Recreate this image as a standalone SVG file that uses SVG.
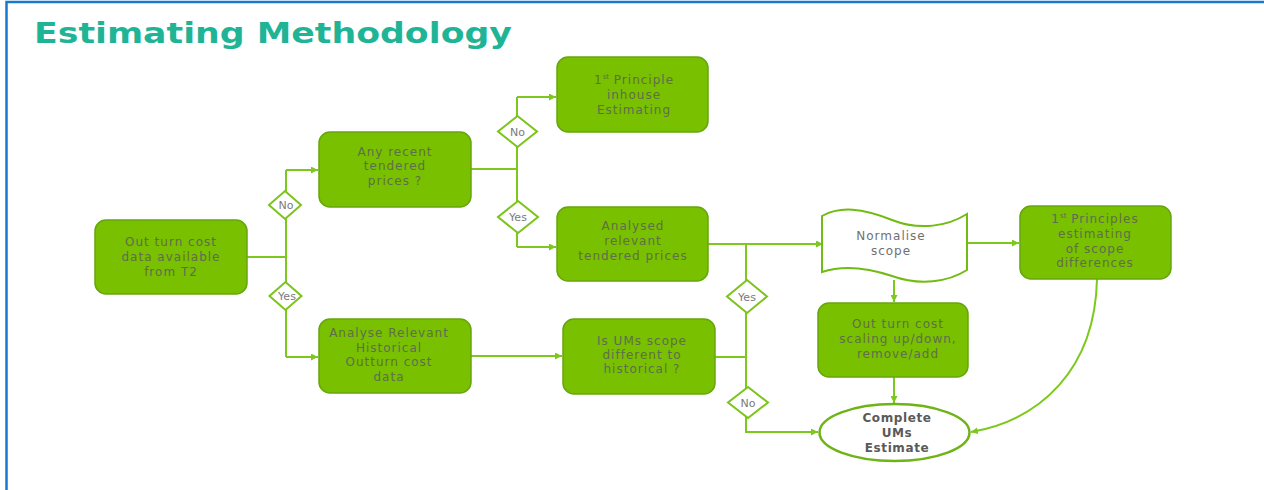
<svg xmlns="http://www.w3.org/2000/svg" width="1264" height="490" viewBox="0 0 1264 490">
<style>
.box{fill:#78c000;stroke:#66a60c;stroke-width:1.5}
.wshape{fill:#ffffff;stroke:#72bb12;stroke-width:2}
.dia{fill:#ffffff;stroke:#7cc31c;stroke-width:2}
.con{fill:none;stroke:#7cc81c;stroke-width:2}
.t{font-family:"DejaVu Sans",sans-serif;font-size:12px;letter-spacing:1px;fill:#5f6e4c;text-anchor:middle}
.tw{font-family:"DejaVu Sans",sans-serif;font-size:12px;letter-spacing:1px;fill:#707070;text-anchor:middle}
.tb{font-family:"DejaVu Sans",sans-serif;font-size:12px;font-weight:bold;letter-spacing:0.6px;fill:#5a5a5a;text-anchor:middle}
.td{font-family:"DejaVu Sans",sans-serif;font-size:11px;fill:#7a7a7a;text-anchor:middle}
.sup{font-size:7px;letter-spacing:0}
</style>
<defs>
<marker id="arr" viewBox="0 0 8 8" refX="8" refY="4" markerWidth="7" markerHeight="7" markerUnits="userSpaceOnUse" orient="auto">
<path d="M0,0 L8,4 L0,8 Z" fill="#7cc81c"/>
</marker>
</defs>
<rect x="0" y="0" width="1264" height="490" fill="#ffffff"/>
<g id="frame">
<path d="M6.5,490 V2 H1264" fill="none" stroke="#1a78d0" stroke-width="2.5"/>
</g>
<g id="title">
<text x="34" y="43" font-family="DejaVu Sans, sans-serif" font-size="28" font-weight="bold" fill="#1fb496" textLength="478" lengthAdjust="spacingAndGlyphs">Estimating Methodology</text>
</g>
<g id="connectors">
<path class="con" d="M247,257 H286"/>
<path class="con" d="M286,170 V357"/>
<path class="con" d="M286,170 H318" marker-end="url(#arr)"/>
<path class="con" d="M286,357 H318" marker-end="url(#arr)"/>
<path class="con" d="M471,169 H517"/>
<path class="con" d="M517,97 V247"/>
<path class="con" d="M517,97 H556" marker-end="url(#arr)"/>
<path class="con" d="M517,247 H556" marker-end="url(#arr)"/>
<path class="con" d="M708,244 H823" marker-end="url(#arr)"/>
<path class="con" d="M746,244 V432 H818" marker-end="url(#arr)"/>
<path class="con" d="M715,357 H746"/>
<path class="con" d="M471,356 H562" marker-end="url(#arr)"/>
<path class="con" d="M967,243 H1019" marker-end="url(#arr)"/>
<path class="con" d="M894,280 V302" marker-end="url(#arr)"/>
<path class="con" d="M894,377 V403" marker-end="url(#arr)"/>
<path class="con" d="M1097,279 C1095,370 1040,420 971,432" marker-end="url(#arr)"/>
</g>
<g id="n-outturn">
<rect class="box" x="95" y="220" width="152" height="74" rx="11"/>
<text class="t" x="171" y="246">Out turn cost</text>
<text class="t" x="171" y="261">data available</text>
<text class="t" x="171" y="276">from T2</text>
</g>
<g id="n-recent">
<rect class="box" x="319" y="132" width="152" height="75" rx="11"/>
<text class="t" x="395" y="156">Any recent</text>
<text class="t" x="395" y="170">tendered</text>
<text class="t" x="395" y="185">prices ?</text>
</g>
<g id="n-historical">
<rect class="box" x="319" y="319" width="152" height="74" rx="11"/>
<text class="t" x="389" y="337">Analyse Relevant</text>
<text class="t" x="389" y="352">Historical</text>
<text class="t" x="389" y="366">Outturn cost</text>
<text class="t" x="389" y="381">data</text>
</g>
<g id="n-firstprinciple">
<rect class="box" x="557" y="57" width="151" height="75" rx="11"/>
<text class="t" x="634" y="84">1<tspan class="sup" dy="-5">st</tspan><tspan dy="5"> Principle</tspan></text>
<text class="t" x="634" y="99">inhouse</text>
<text class="t" x="634" y="114">Estimating</text>
</g>
<g id="n-analysed">
<rect class="box" x="557" y="207" width="151" height="74" rx="11"/>
<text class="t" x="633" y="230">Analysed</text>
<text class="t" x="633" y="245">relevant</text>
<text class="t" x="633" y="260">tendered prices</text>
</g>
<g id="n-isums">
<rect class="box" x="563" y="319" width="152" height="75" rx="11"/>
<text class="t" x="642" y="345">Is UMs scope</text>
<text class="t" x="642" y="359">different to</text>
<text class="t" x="642" y="373">historical ?</text>
</g>
<g id="n-normalise">
<path class="wshape" d="M822,216 C840,206 862,208 892,220 C920,231 948,226 967,214 L967,270 C948,282 920,286 892,276 C862,266 840,266 822,272 Z"/>
<text class="tw" x="891" y="240">Normalise</text>
<text class="tw" x="891" y="255">scope</text>
</g>
<g id="n-scaling">
<rect class="box" x="818" y="303" width="150" height="74" rx="11"/>
<text class="t" x="898" y="328">Out turn cost</text>
<text class="t" x="898" y="343">scaling up/down,</text>
<text class="t" x="898" y="358">remove/add</text>
</g>
<g id="n-scopediff">
<rect class="box" x="1020" y="206" width="151" height="73" rx="11"/>
<text class="t" x="1095" y="223">1<tspan class="sup" dy="-5">st</tspan><tspan dy="5"> Principles</tspan></text>
<text class="t" x="1095" y="238">estimating</text>
<text class="t" x="1095" y="253">of scope</text>
<text class="t" x="1095" y="267">differences</text>
</g>
<g id="n-complete">
<ellipse cx="894.5" cy="432.5" rx="75" ry="28.5" fill="#ffffff" stroke="#6fb416" stroke-width="2.5"/>
<text class="tb" x="897" y="422">Complete</text>
<text class="tb" x="897" y="437">UMs</text>
<text class="tb" x="897" y="452">Estimate</text>
</g>
<g id="d-no1">
<path class="dia" d="M285,191 L301,205 L285,219 L269,205 Z"/>
<text class="td" x="286" y="209">No</text>
</g>
<g id="d-yes1">
<path class="dia" d="M285.5,282 L301.5,296 L285.5,310 L269.5,296 Z"/>
<text class="td" x="287" y="300">Yes</text>
</g>
<g id="d-no2">
<path class="dia" d="M517.5,116 L537,131.5 L517.5,147 L498,131.5 Z"/>
<text class="td" x="517.5" y="135.5">No</text>
</g>
<g id="d-yes2">
<path class="dia" d="M518,201 L538,217 L518,233 L498,217 Z"/>
<text class="td" x="518" y="221">Yes</text>
</g>
<g id="d-yes3">
<path class="dia" d="M747,280 L767,296.5 L747,313 L727,296.5 Z"/>
<text class="td" x="747" y="300.5">Yes</text>
</g>
<g id="d-no3">
<path class="dia" d="M748,387 L768,402.5 L748,418 L728,402.5 Z"/>
<text class="td" x="748" y="406.5">No</text>
</g>
</svg>
